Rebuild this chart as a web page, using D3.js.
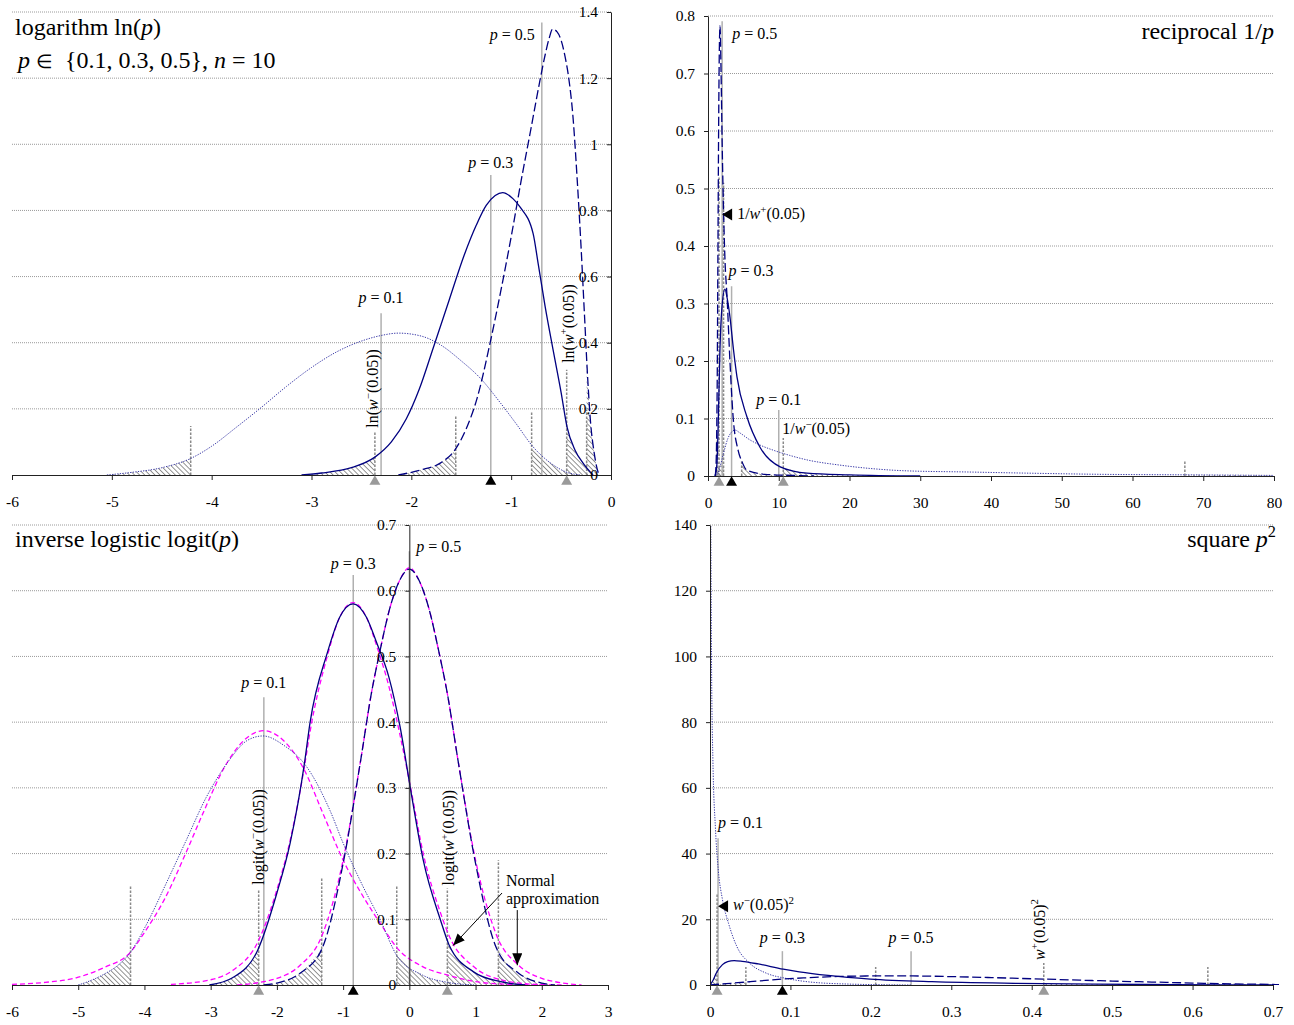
<!DOCTYPE html>
<html><head><meta charset="utf-8">
<script src="https://cdn.jsdelivr.net/npm/d3@7"></script>
<style>body{margin:0;background:#fff}</style>
</head><body>
<svg id="c" width="1294" height="1025"></svg>
<script>
// ================= DATA =================
const pValues = [0.1, 0.3, 0.5];

// ---- logarithm ln(p) panel ----
const lnTicksX = [-6,-5,-4,-3,-2,-1,0];
const lnTicksY = [0,0.2,0.4,0.6,0.8,1,1.2,1.4];
const lnP01 = [[-5.05,0],[-4.8,0.008],[-4.5,0.022],[-4.21,0.05],[-4.0,0.087],[-3.75,0.145],[-3.5,0.205],[-3.25,0.268],[-3.0,0.325],[-2.75,0.372],[-2.5,0.405],[-2.3,0.422],[-2.13,0.429],[-1.9,0.42],[-1.7,0.392],[-1.5,0.345],[-1.31,0.293],[-1.1,0.215],[-0.95,0.155],[-0.78,0.085],[-0.6,0.035],[-0.44,0.008],[-0.3,0]];
const lnP03 = [[-3.1,0],[-2.9,0.006],[-2.6,0.022],[-2.365,0.054],[-2.2,0.1],[-2.05,0.17],[-1.92,0.26],[-1.78,0.385],[-1.62,0.53],[-1.47,0.665],[-1.35,0.755],[-1.25,0.815],[-1.16,0.845],[-1.085,0.854],[-0.98,0.835],[-0.91,0.81],[-0.78,0.73],[-0.73,0.64],[-0.66,0.51],[-0.58,0.378],[-0.5,0.25],[-0.44,0.145],[-0.36,0.075],[-0.28,0.036],[-0.18,0]];
const lnP05 = [[-2.13,0],[-1.91,0.015],[-1.71,0.036],[-1.563,0.076],[-1.45,0.14],[-1.346,0.227],[-1.212,0.398],[-1.095,0.57],[-1.0,0.72],[-0.9,0.89],[-0.8,1.05],[-0.72,1.18],[-0.66,1.27],[-0.62,1.32],[-0.585,1.348],[-0.54,1.34],[-0.5,1.315],[-0.46,1.265],[-0.428,1.21],[-0.38,1.08],[-0.34,0.9],[-0.3,0.69],[-0.265,0.48],[-0.235,0.3],[-0.205,0.16],[-0.17,0.07],[-0.14,0.02],[-0.12,0]];
const lnTails = [{lo:-4.21,loTop:0.148,hi:-0.795,hiTop:0.19},{lo:-2.365,loTop:0.131,hi:-0.444,hiTop:0.318},{lo:-1.555,loTop:0.181,hi:-0.244,hiTop:0.197}];
const lnPLines = [[-2.303,0.489],[-1.204,0.907],[-0.693,1.368]];
const lnMarkGray = [-2.365,-0.444];
const lnMarkBlack = -1.204;

// ---- reciprocal 1/p panel ----
const recTicksX = [0,10,20,30,40,50,60,70,80];
const recTicksY = [0,0.1,0.2,0.3,0.4,0.5,0.6,0.7,0.8];
const recP01 = [[1.0,0],[1.4,0.005],[1.7,0.016],[2.2,0.04],[2.8,0.065],[3.3,0.076],[3.8,0.08],[4.5,0.075],[5.9,0.063],[7.5,0.053],[9.2,0.045],[11.5,0.036],[14,0.028],[18.6,0.019],[23,0.013],[28,0.009],[36.6,0.007],[45,0.005],[55,0.003],[68,0.002],[80,0.001]];
const recP03 = [[1.0,0],[1.1,0.005],[1.27,0.022],[1.46,0.1],[1.69,0.22],[1.95,0.29],[2.4,0.325],[2.7,0.31],[3.1,0.277],[3.6,0.22],[4.1,0.172],[5.5,0.103],[7.35,0.05],[10.2,0.016],[14,0.005],[20,0.002],[30,0]];
const recP05 = [[1.0,0],[1.1,0.01],[1.2,0.05],[1.3,0.16],[1.4,0.38],[1.5,0.6],[1.6,0.74],[1.7,0.783],[1.85,0.7],[2.0,0.58],[2.2,0.46],[2.4,0.376],[2.7,0.31],[3.1,0.2],[3.55,0.103],[4.25,0.045],[4.8,0.025],[5.5,0.01],[8,0.003],[12,0.001],[15,0]];
const recTails = [{lo:2.2,loTop:0.51,hi:67.4,hiTop:0.026},{lo:1.56,loTop:0.52,hi:10.64,hiTop:0.066},{lo:1.27,loTop:0.06,hi:4.76,hiTop:0.028}];
const recPLines = [[10,0.115],[3.333,0.33],[2,0.791]];
const recMarkGray = [1.56,10.64];
const recMarkBlack = 3.333;

// ---- logit panel ----
const lgTicksX = [-6,-5,-4,-3,-2,-1,0,1,2,3];
const lgTicksY = [0,0.1,0.2,0.3,0.4,0.5,0.6,0.7];
const lgP01 = [[-5.0,0],[-4.91,0.003],[-4.6,0.017],[-4.4,0.03],[-4.21,0.05],[-3.97,0.092],[-3.67,0.155],[-3.37,0.22],[-3.07,0.285],[-2.9,0.315],[-2.72,0.342],[-2.45,0.372],[-2.21,0.379],[-1.9,0.365],[-1.55,0.332],[-1.2,0.266],[-1.0,0.216],[-0.7,0.15],[-0.44,0.099],[-0.19,0.045],[0.2,0.015],[0.58,0.004],[1.0,0]];
const lgP03 = [[-3.02,0],[-2.67,0.011],[-2.29,0.053],[-2.0,0.14],[-1.8,0.216],[-1.58,0.34],[-1.5,0.399],[-1.24,0.505],[-1.05,0.56],[-0.85,0.58],[-0.65,0.56],[-0.49,0.52],[-0.31,0.469],[-0.14,0.393],[0.02,0.297],[0.21,0.19],[0.47,0.099],[0.6,0.061],[0.97,0.02],[1.38,0.005],[1.75,0]];
const lgP05 = [[-2.2,0],[-2.0,0.003],[-1.65,0.018],[-1.32,0.055],[-1.0,0.185],[-0.73,0.345],[-0.58,0.44],[-0.44,0.51],[-0.29,0.575],[-0.14,0.617],[0,0.633],[0.14,0.617],[0.29,0.575],[0.44,0.51],[0.58,0.44],[0.73,0.345],[1.0,0.185],[1.32,0.055],[1.65,0.018],[2.0,0.003],[2.2,0]];
const lgN01 = [[-6,0.001],[-5.5,0.004],[-5.03,0.011],[-4.6,0.027],[-4.21,0.05],[-4.0,0.08],[-3.7,0.13],[-3.4,0.195],[-3.1,0.265],[-2.8,0.33],[-2.5,0.372],[-2.2,0.387],[-1.9,0.372],[-1.6,0.33],[-1.3,0.26],[-1.0,0.19],[-0.7,0.135],[-0.44,0.094],[-0.19,0.057],[0.2,0.028],[0.58,0.015],[1.0,0.005],[1.5,0.001],[2.0,0]];
const lgN03 = [[-3.6,0.001],[-3.0,0.008],[-2.67,0.022],[-2.29,0.065],[-2.0,0.145],[-1.8,0.22],[-1.58,0.335],[-1.5,0.385],[-1.24,0.5],[-1.05,0.56],[-0.85,0.582],[-0.65,0.56],[-0.49,0.515],[-0.31,0.455],[-0.14,0.38],[0.02,0.3],[0.21,0.2],[0.47,0.11],[0.6,0.075],[0.97,0.028],[1.38,0.008],[1.9,0.001],[2.3,0]];
const lgN05 = [[-2.6,0],[-2.2,0.005],[-2.0,0.01],[-1.65,0.03],[-1.32,0.075],[-1.0,0.19],[-0.73,0.345],[-0.58,0.44],[-0.44,0.51],[-0.29,0.575],[-0.14,0.617],[0,0.635],[0.14,0.617],[0.29,0.575],[0.44,0.51],[0.58,0.44],[0.73,0.345],[1.0,0.19],[1.32,0.075],[1.65,0.03],[2.0,0.01],[2.2,0.005],[2.6,0]];
const lgTails = [{lo:-4.21,loTop:0.15,hi:-0.19,hiTop:0.15},{lo:-2.275,loTop:0.145,hi:0.574,hiTop:0.147},{lo:-1.323,loTop:0.162,hi:1.345,hiTop:0.19}];
const lgPLines = [[-2.197,0.438],[-0.847,0.624],[0,0.66]];
const lgMarkGray = [-2.275,0.574];
const lgMarkBlack = -0.847;

// ---- square p^2 panel ----
const sqTicksX = [0,0.1,0.2,0.3,0.4,0.5,0.6,0.7];
const sqTicksY = [0,20,40,60,80,100,120,140];
const sqP01 = [[0.0008,150],[0.002,95],[0.0036,68.5],[0.0067,48],[0.0103,35],[0.0155,26],[0.023,18.8],[0.0336,11.6],[0.049,6.7],[0.07,3.6],[0.095,2.0],[0.121,1.0],[0.17,0.3],[0.25,0]];
const sqP03 = [[0,0],[0.004,1.5],[0.0077,3.6],[0.0155,6.2],[0.022,7.1],[0.03,7.4],[0.04,7.2],[0.06,6.4],[0.091,4.8],[0.111,4.0],[0.147,2.9],[0.199,1.8],[0.276,1.0],[0.38,0.5],[0.48,0.25],[0.58,0.1],[0.7,0]];
const sqP05 = [[0,0],[0.02,0.4],[0.05,1.0],[0.09,1.8],[0.12,2.2],[0.16,2.6],[0.2,2.75],[0.25,2.75],[0.3,2.55],[0.35,2.25],[0.4,1.9],[0.45,1.55],[0.5,1.2],[0.55,0.9],[0.6,0.6],[0.65,0.35],[0.7,0.15],[0.71,0.1]];
const sqTails = [{lo:0.00022,loTop:130,hi:0.206,hiTop:5.5},{lo:0.0088,loTop:28,hi:0.415,hiTop:6.7},{lo:0.0446,loTop:5.5,hi:0.619,hiTop:5.5}];
const sqPLines = [[0.01,44.7],[0.09,10.3],[0.25,10.3]];
const sqMarkGray = [0.0088,0.415];
const sqMarkBlack = 0.09;

// ================= DRAWING =================
const FONT = '"Liberation Serif","Times New Roman",serif';
const svg = d3.select('#c');
const defs = svg.append('defs');
const pat = defs.append('pattern').attr('id','hatch').attr('patternUnits','userSpaceOnUse')
  .attr('width',3.6).attr('height',3.6).attr('patternTransform','rotate(-45)');
pat.append('line').attr('x1',0).attr('y1',0).attr('x2',0).attr('y2',3.6).attr('stroke','#7a7a7a').attr('stroke-width',1.6);
const mk = defs.append('marker').attr('id','arrow').attr('viewBox','0 0 12 10').attr('refX',12).attr('refY',5)
  .attr('markerWidth',12).attr('markerHeight',10).attr('markerUnits','userSpaceOnUse').attr('orient','auto');
mk.append('path').attr('d','M0,0 L12,5 L0,10 Z').attr('fill','#000');

const curveStyles = [
  {stroke:'#3a3aa8', width:1, dash:'1.3,1.3'},
  {stroke:'#000080', width:1.3, dash:null},
  {stroke:'#000080', width:1.3, dash:'9,3.5'}
];
const normalStyle = {stroke:'#ff00ff', width:1.3, dash:'5,3'};

function rich(sel, parts, size){
  let cur = 0;
  parts.forEach(p=>{
    const o = typeof p === 'string' ? {t:p} : p;
    const ts = sel.append('tspan').text(o.t);
    if(o.i) ts.attr('font-style','italic');
    if(o.fs) ts.attr('font-size', o.fs);
    const target = o.sup ? -0.4*size : 0;
    if(o.sup) ts.attr('font-size', size*0.68);
    if(target !== cur){ ts.attr('dy', target-cur); cur = target; }
  });
  return sel;
}
function txt(x, y, parts, size, anchor, rotate){
  const t = svg.append('text').attr('font-family',FONT).attr('font-size',size).attr('fill','#000')
    .attr('text-anchor',anchor||'start');
  if(rotate) t.attr('transform',`translate(${x},${y}) rotate(-90)`);
  else t.attr('x',x).attr('y',y);
  return rich(t, parts, size);
}
const pLabel = v => [{t:'p',i:true}, ' = '+v];

function interpAt(pts, xv){
  for(let i=0;i<pts.length-1;i++){
    const [x0,y0]=pts[i],[x1,y1]=pts[i+1];
    if(xv>=x0 && xv<=x1) return [xv, x1===x0?y0:y0+(y1-y0)*(xv-x0)/(x1-x0)];
  }
  return [xv,0];
}
function clipPts(pts, a, b){
  const A=Math.max(a,pts[0][0]), B=Math.min(b,pts[pts.length-1][0]);
  if(A>=B) return [];
  const out=[interpAt(pts,A)];
  pts.forEach(p=>{ if(p[0]>A && p[0]<B) out.push(p); });
  out.push(interpAt(pts,B));
  return out;
}

function panel(o){
  const x = d3.scaleLinear().domain(o.xDomain).range(o.xRange);
  const y = d3.scaleLinear().domain(o.yDomain).range(o.yRange);
  const g = svg.append('g');
  const cid = 'clip'+o.key;
  defs.append('clipPath').attr('id',cid).append('rect')
    .attr('x',o.xRange[0]).attr('y',o.yRange[1]).attr('width',o.xRange[1]-o.xRange[0]+6).attr('height',o.yRange[0]-o.yRange[1]);
  g.append('g').selectAll('line').data(o.yTicks.filter(v=>v>0)).join('line')
    .attr('x1',o.xRange[0]).attr('x2',o.xRange[1]).attr('y1',d=>y(d)).attr('y2',d=>y(d))
    .attr('stroke','#9a9a9a').attr('stroke-width',1).attr('stroke-dasharray','1,1');
  const cg = g.append('g').attr('clip-path',`url(#${cid})`);
  const area = d3.area().x(d=>x(d[0])).y0(y(0)).y1(d=>y(d[1])).curve(d3.curveMonotoneX);
  const line = d3.line().x(d=>x(d[0])).y(d=>y(d[1])).curve(d3.curveMonotoneX);
  o.curves.forEach((c,i)=>{
    const t = o.tails[i];
    const lo = clipPts(c, -1e9, t.lo), hi = clipPts(c, t.hi, 1e9);
    [lo,hi].forEach(s=>{ if(s.length>1) cg.append('path').attr('d',area(s)).attr('fill','url(#hatch)'); });
  });
  cg.selectAll('.pl').data(o.pLines).join('line')
    .attr('x1',d=>x(d[0])).attr('x2',d=>x(d[0])).attr('y1',y(0)).attr('y2',d=>y(d[1]))
    .attr('stroke','#b0b0b0').attr('stroke-width',1.5);
  const tl = [];
  o.tails.forEach(t=>{ tl.push([t.lo,t.loTop]); tl.push([t.hi,t.hiTop]); });
  cg.selectAll('.tl').data(tl).join('line')
    .attr('x1',d=>x(d[0])).attr('x2',d=>x(d[0])).attr('y1',y(0)).attr('y2',d=>y(d[1]))
    .attr('stroke','#8a8a8a').attr('stroke-width',1.5).attr('stroke-dasharray','2.5,1.5');
  (o.normals||[]).forEach(n=>{
    cg.append('path').attr('d',line(n)).attr('fill','none').attr('stroke',normalStyle.stroke)
      .attr('stroke-width',normalStyle.width).attr('stroke-dasharray',normalStyle.dash);
  });
  o.curves.forEach((c,i)=>{
    const s = curveStyles[i];
    const p = cg.append('path').attr('d',line(c)).attr('fill','none').attr('stroke',s.stroke).attr('stroke-width',s.width);
    if(s.dash) p.attr('stroke-dasharray',s.dash);
  });
  const ax = g.append('g').attr('transform',`translate(0,${y(0)})`)
    .call(d3.axisBottom(x).tickValues(o.xTicks).tickSize(5).tickSizeOuter(0).tickPadding(16).tickFormat(d=>String(+d.toFixed(2))));
  const ay = g.append('g').attr('transform',`translate(${x(0)},0)`)
    .call(d3.axisLeft(y).tickValues(o.yTicks).tickSize(4).tickSizeOuter(0).tickPadding(9).tickFormat(d=>String(+d.toFixed(2))));
  [ax,ay].forEach(a=>{
    a.attr('font-family',FONT).attr('font-size',15.5);
    a.selectAll('text').attr('fill','#000');
    a.selectAll('line,path').attr('stroke','#222');
  });
  const tri = d3.symbol(d3.symbolTriangle, 52);
  o.markGray.forEach(v=>{
    g.append('path').attr('d',tri()).attr('transform',`translate(${x(v)},${y(0)+6.5})`).attr('fill','#9a9a9a');
  });
  g.append('path').attr('d',tri()).attr('transform',`translate(${x(o.markBlack)},${y(0)+6.5})`).attr('fill','#000');
  return {x,y};
}
function leftTri(px, py){
  svg.append('path').attr('d',`M${px},${py} L${px+10},${py-6} L${px+10},${py+6} Z`).attr('fill','#000');
}

// ---------- Panel 1: logarithm ----------
const P1 = panel({key:1, xDomain:[-6,0], xRange:[12,611], yDomain:[0,1.4], yRange:[475,12],
  xTicks:lnTicksX, yTicks:lnTicksY, curves:[lnP01,lnP03,lnP05], tails:lnTails, pLines:lnPLines,
  markGray:lnMarkGray, markBlack:lnMarkBlack});
txt(15,35,['logarithm ln(',{t:'p',i:true},')'],24);
txt(18,68,[{t:'p',i:true},' ',{t:'∈',fs:19},' \u00a0{0.1, 0.3, 0.5}, ',{t:'n',i:true},' = 10'],24);
txt(P1.x(lnPLines[0][0]), P1.y(lnPLines[0][1])-10, pLabel(pValues[0]),16,'middle');
txt(P1.x(lnPLines[1][0]), P1.y(lnPLines[1][1])-7, pLabel(pValues[1]),16,'middle');
txt(P1.x(lnPLines[2][0])-7, 40, pLabel(pValues[2]),16,'end');
txt(P1.x(lnTails[1].lo)+3, P1.y(lnTails[1].loTop)-4, ['ln(',{t:'w',i:true},{t:'−',sup:true},'(0.05))'],16,'start',true);
txt(P1.x(lnTails[1].hi)+7, P1.y(lnTails[1].hiTop)-7, ['ln(',{t:'w',i:true},{t:'+',sup:true},'(0.05))'],16,'start',true);

// ---------- Panel 2: reciprocal ----------
const P2 = panel({key:2, xDomain:[0,80], xRange:[708,1274], yDomain:[0,0.8], yRange:[476,16],
  xTicks:recTicksX, yTicks:recTicksY, curves:[recP01,recP03,recP05], tails:recTails, pLines:recPLines,
  markGray:recMarkGray, markBlack:recMarkBlack});
txt(1274,39,['reciprocal 1/',{t:'p',i:true}],24,'end');
txt(P2.x(recPLines[2][0])+10, P2.y(0.8)+23, pLabel(pValues[2]),16,'start');
txt(P2.x(recPLines[1][0])-3, P2.y(recPLines[1][1])-10, pLabel(pValues[1]),16,'start');
txt(P2.x(recPLines[0][0]), P2.y(recPLines[0][1])-5, pLabel(pValues[0]),16,'middle');
txt(P2.x(recTails[1].hi)-1, P2.y(recTails[1].hiTop)-4, ['1/',{t:'w',i:true},{t:'−',sup:true},'(0.05)'],16,'start');
leftTri(P2.x(2.0), P2.y(0.455));
txt(P2.x(2.0)+15, P2.y(0.455)+5, ['1/',{t:'w',i:true},{t:'+',sup:true},'(0.05)'],16,'start');

// ---------- Panel 3: logit ----------
const P3 = panel({key:3, xDomain:[-6,3], xRange:[12,608], yDomain:[0,0.7], yRange:[985,525],
  xTicks:lgTicksX, yTicks:lgTicksY, curves:[lgP01,lgP03,lgP05], normals:[lgN01,lgN03,lgN05], tails:lgTails, pLines:lgPLines,
  markGray:lgMarkGray, markBlack:lgMarkBlack});
txt(15,547,['inverse logistic logit(',{t:'p',i:true},')'],24);
txt(P3.x(lgPLines[0][0]), P3.y(lgPLines[0][1])-9, pLabel(pValues[0]),16,'middle');
txt(P3.x(lgPLines[1][0]), P3.y(lgPLines[1][1])-6, pLabel(pValues[1]),16,'middle');
txt(P3.x(0)+7, 552, pLabel(pValues[2]),16,'start');
txt(P3.x(lgTails[1].lo)+5, P3.y(lgTails[1].loTop)-5, ['logit(',{t:'w',i:true},{t:'−',sup:true},'(0.05))'],16,'start',true);
txt(P3.x(lgTails[1].hi)+7, P3.y(lgTails[1].hiTop)-3, ['logit(',{t:'w',i:true},{t:'+',sup:true},'(0.05))'],16,'start',true);
txt(P3.x(1.46), P3.y(0.15), ['Normal'],16,'start');
txt(P3.x(1.46), P3.y(0.123), ['approximation'],16,'start');
svg.append('line').attr('x1',P3.x(1.4)).attr('y1',P3.y(0.14)).attr('x2',P3.x(0.66)).attr('y2',P3.y(0.06))
  .attr('stroke','#000').attr('stroke-width',1).attr('marker-end','url(#arrow)');
svg.append('line').attr('x1',P3.x(1.63)).attr('y1',P3.y(0.114)).attr('x2',P3.x(1.63)).attr('y2',P3.y(0.03))
  .attr('stroke','#000').attr('stroke-width',1).attr('marker-end','url(#arrow)');

// ---------- Panel 4: square ----------
const P4 = panel({key:4, xDomain:[0,0.7], xRange:[710,1273], yDomain:[0,140], yRange:[985,525],
  xTicks:sqTicksX, yTicks:sqTicksY, curves:[sqP01,sqP03,sqP05], tails:sqTails, pLines:sqPLines,
  markGray:sqMarkGray, markBlack:sqMarkBlack});
txt(1276,547,['square ',{t:'p',i:true},{t:'2',sup:true}],24,'end');
txt(P4.x(sqPLines[0][0]), P4.y(sqPLines[0][1])-10, pLabel(pValues[0]),16,'start');
txt(P4.x(sqPLines[1][0]), P4.y(sqPLines[1][1])-8, pLabel(pValues[1]),16,'middle');
txt(P4.x(sqPLines[2][0]), P4.y(sqPLines[2][1])-8, pLabel(pValues[2]),16,'middle');
leftTri(P4.x(0.01), P4.y(24));
txt(P4.x(0.01)+15, P4.y(24)+4, [{t:'w',i:true},{t:'−',sup:true},'(0.05)',{t:'2',sup:true}],16,'start');
txt(P4.x(sqTails[1].hi)+1, P4.y(sqTails[1].hiTop)-3, [{t:'w',i:true},{t:'+',sup:true},'(0.05)',{t:'2',sup:true}],16,'start',true);
</script>
</body></html>
